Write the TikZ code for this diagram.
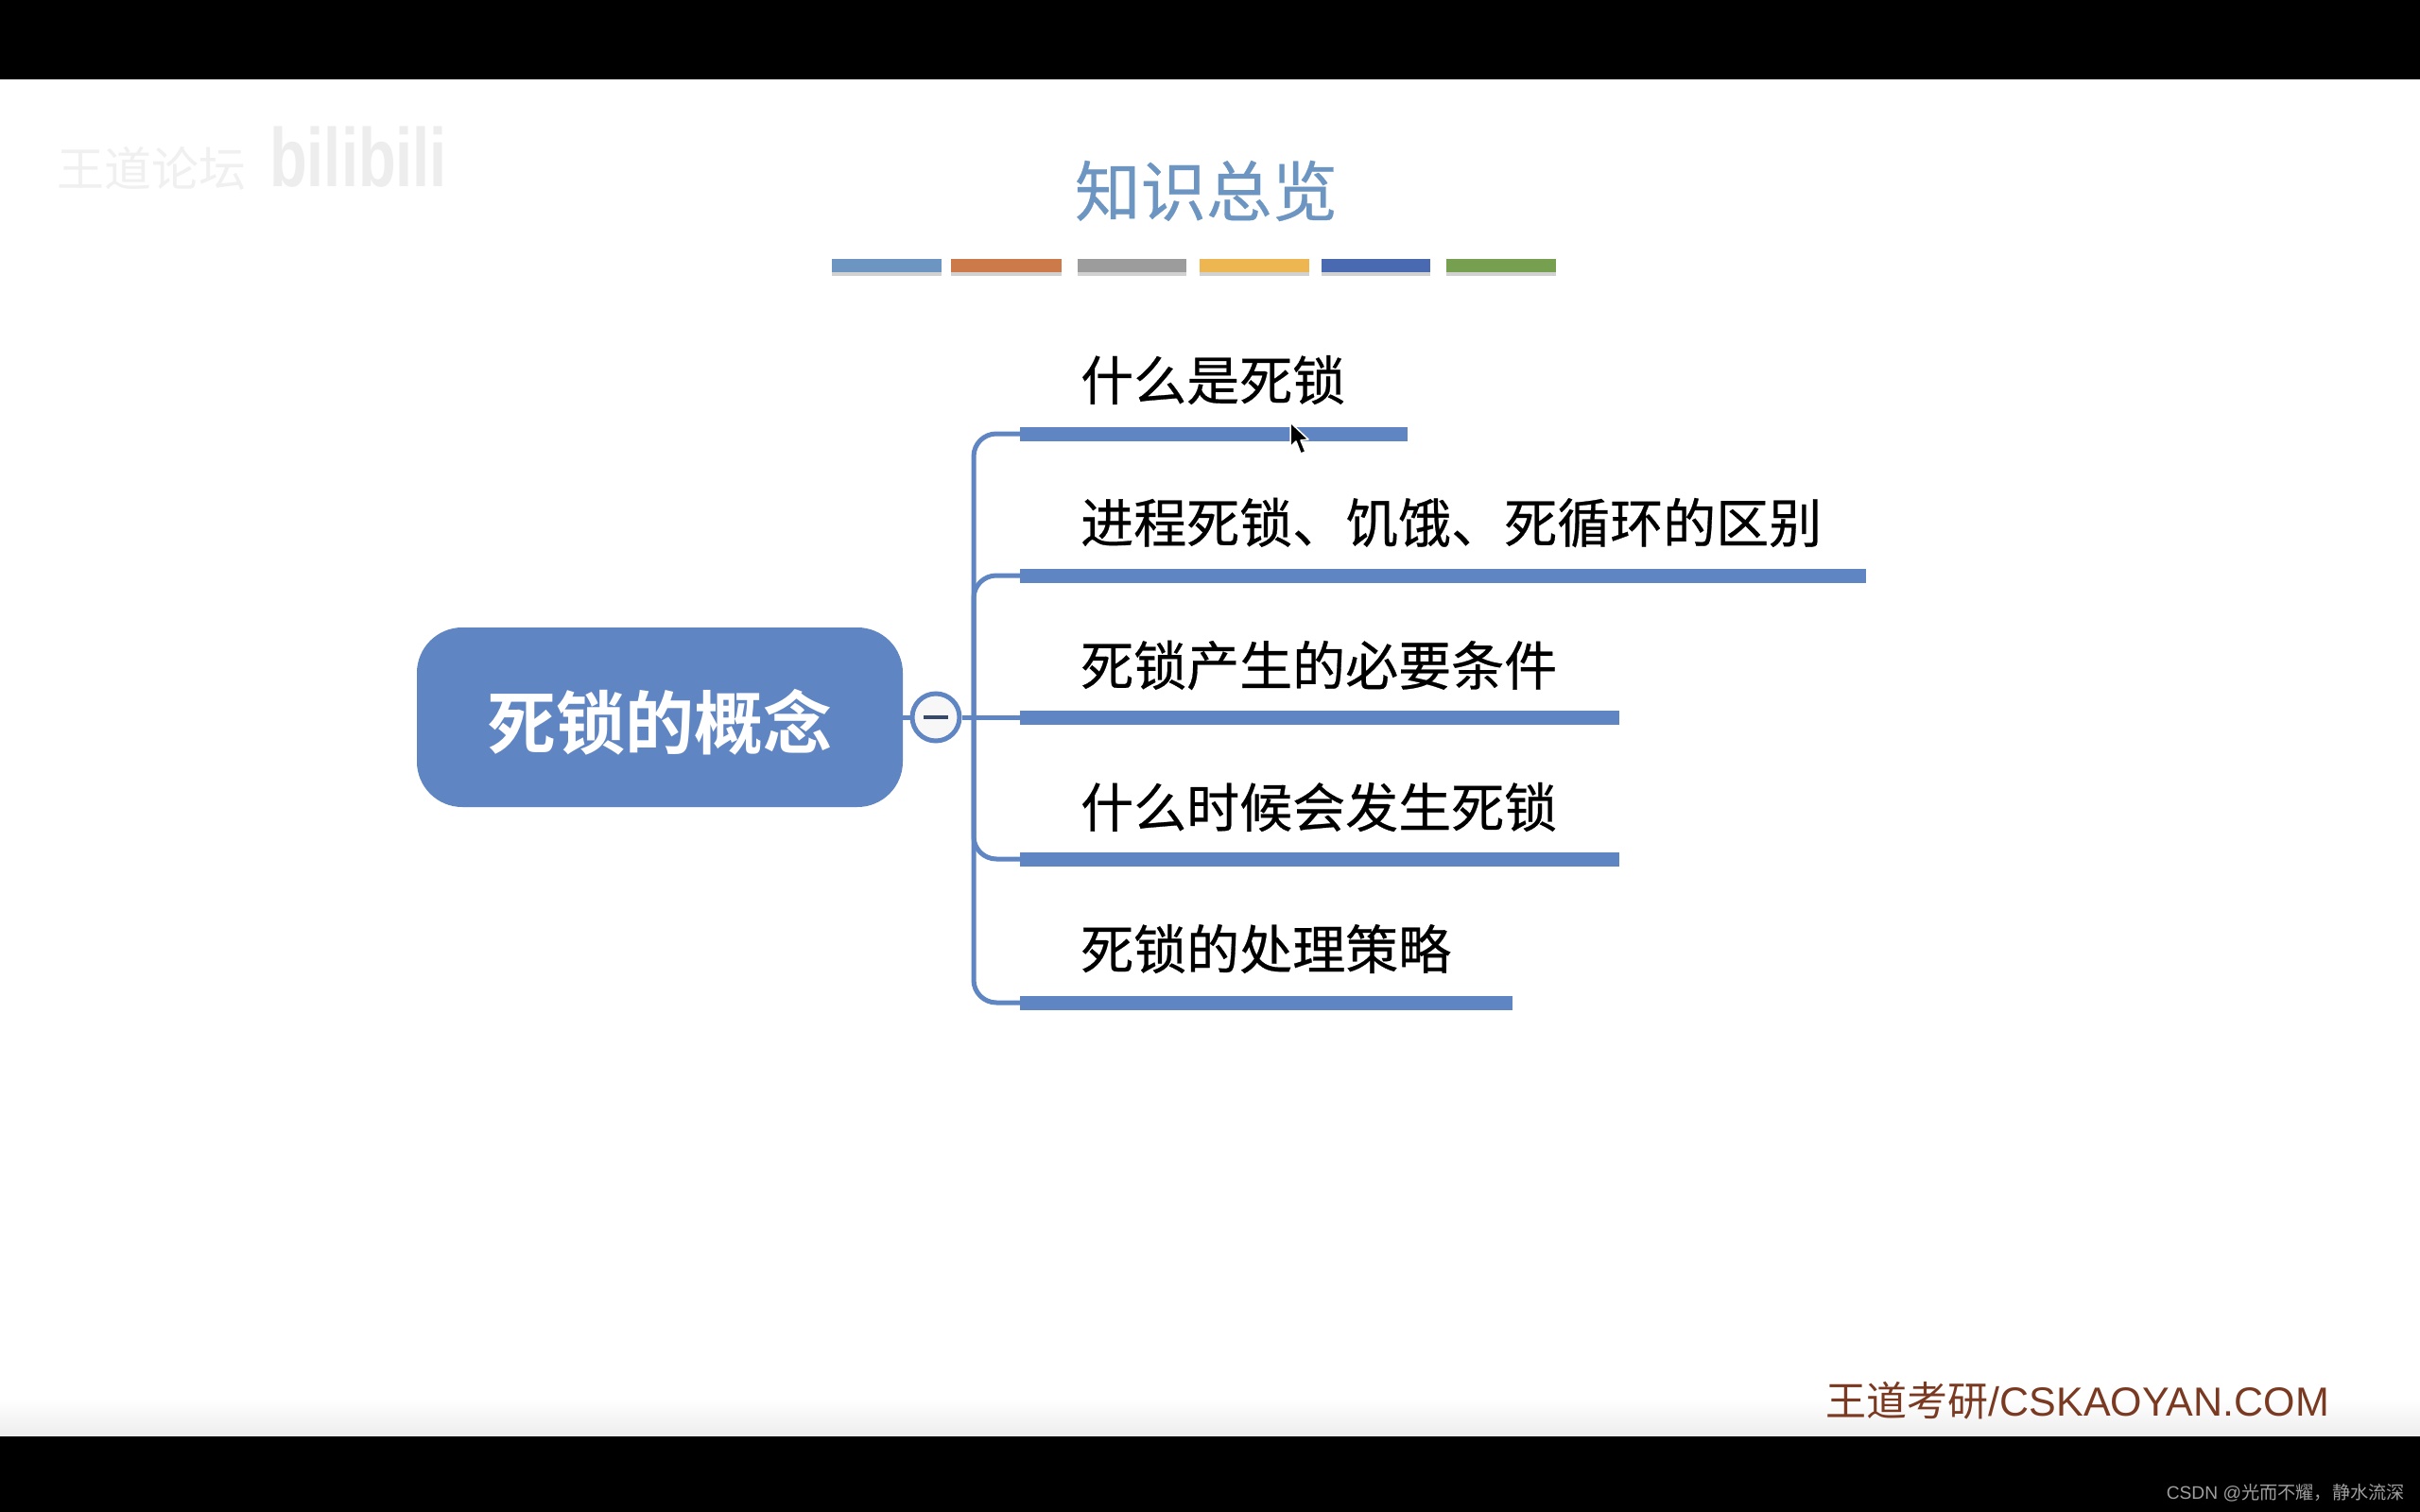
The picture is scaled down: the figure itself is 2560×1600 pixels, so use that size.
\documentclass[tikz,border=0pt]{standalone}
\usepackage{fontspec}
\usepackage{graphicx}
\setmainfont{Liberation Sans}
\newfontfamily\cjk{Noto Sans CJK SC}
\newfontfamily\cjkm[FakeBold=0.5]{Noto Sans CJK SC}
\newfontfamily\cjkb{Noto Sans CJK SC Bold}
\usetikzlibrary{shadows}
\definecolor{mapblue}{HTML}{5F85C3}
\definecolor{titleblue}{HTML}{6C95C2}
\definecolor{footbrown}{HTML}{7A3A22}
\definecolor{barorange}{RGB}{205,122,75}
\definecolor{bargrey}{RGB}{156,156,156}
\definecolor{baryellow}{RGB}{237,182,80}
\definecolor{bardeep}{RGB}{73,106,176}
\definecolor{bargreen}{RGB}{118,160,80}
\tikzset{
  x=1pt,y=-1pt,
  colorbar/.style={draw=none,minimum height=14pt,inner sep=0pt,anchor=west,drop shadow={shadow xshift=0pt,shadow yshift=-4pt,fill=black,opacity=.18}},
  branchbar/.style={fill=mapblue,minimum height=15pt,inner sep=0pt,anchor=west},
  branchtext/.style={anchor=west,inner sep=0pt,text=black,font=\fontsize{56}{56}\selectfont\cjkm},
  conn/.style={draw=mapblue,line width=5pt,rounded corners=24pt},
}
\begin{document}
\begin{tikzpicture}
\useasboundingbox (0,0) rectangle (2560,1600);
\fill[white] (0,0) rectangle (2560,1600);
\fill[black] (0,0) rectangle (2560,84);
\fill[black] (0,1519) rectangle (2560,1600);
\shade[top color=white,bottom color=black!7] (0,1480) rectangle (2560,1519);
% watermark
\node[anchor=west,inner sep=0pt,text=black!6,font=\fontsize{50}{50}\selectfont\cjk] (wm1) at (60,178) {王道论坛};
\node[anchor=west,inner sep=0pt,text=black!7,font=\fontsize{65}{65}\selectfont\bfseries] (wm2) at (285,166) {\scalebox{1}[1.35]{bilibili}};
% title
\node[inner sep=0pt,text=titleblue,font=\fontsize{69.5}{69.5}\selectfont\cjkm] (title) at (1276,202) {知识总览};
\node[colorbar,minimum width=116pt,fill=titleblue] (c1) at (880,281) {};
\node[colorbar,minimum width=117pt,fill=barorange] (c2) at (1006,281) {};
\node[colorbar,minimum width=115pt,fill=bargrey] (c3) at (1140,281) {};
\node[colorbar,minimum width=116pt,fill=baryellow] (c4) at (1269,281) {};
\node[colorbar,minimum width=115pt,fill=bardeep] (c5) at (1398,281) {};
\node[colorbar,minimum width=116pt,fill=bargreen] (c6) at (1530,281) {};
% map
\node[fill=mapblue,rounded corners=48pt,minimum width=514pt,minimum height=190pt,inner sep=0pt,text=white,font=\fontsize{73}{73}\selectfont\cjkb] (root) at (698,759) {\raisebox{0pt}[66pt][0pt]{死锁的概念}};
\node[branchbar,minimum width=410pt] (b1) at (1079,459) {};
\node[branchbar,minimum width=895pt] (b2) at (1079,609) {};
\node[branchbar,minimum width=634pt] (b3) at (1079,759) {};
\node[branchbar,minimum width=634pt] (b4) at (1079,909) {};
\node[branchbar,minimum width=521pt] (b5) at (1079,1061) {};
\node[circle,draw=mapblue,line width=5pt,fill=black!3,minimum size=50pt,inner sep=0pt] (hub) at (990,759) {};
\coordinate (spine) at (1030,759);
\draw[conn] (root.east) -- (hub.west);
\draw[conn] (hub.east) -- (b3.west);
\draw[conn] (b1.west) -- (b1.west -| spine) -- (b5.west -| spine) -- (b5.west);
\draw[conn] (b2.west) -- (b2.west -| spine) -- (spine);
\draw[conn] (b4.west) -- (b4.west -| spine) -- (spine);
\draw[draw=black!45!mapblue,line width=4pt] ([xshift=-13pt]hub.center) -- ([xshift=13pt]hub.center);
\node[branchtext] (t1) at (1143,402) {什么是死锁};
\node[branchtext] (t2) at (1143,553) {进程死锁、饥饿、死循环的区别};
\node[branchtext] (t3) at (1143,704) {死锁产生的必要条件};
\node[branchtext] (t4) at (1143,854) {什么时候会发生死锁};
\node[branchtext] (t5) at (1143,1004) {死锁的处理策略};
% cursor
\draw[fill=black,draw=white,line width=1.5pt,line join=round] (1365,447) -- (1365,473) -- (1371,467) -- (1376,480) -- (1381,478) -- (1376,466) -- (1384,465) -- cycle;
% footer
\node[anchor=east,inner sep=0pt,text=footbrown,font=\fontsize{43}{43}\selectfont] (foot) at (2464,1482) {{\cjk 王道考研}/CSKAOYAN.COM};
\node[anchor=east,inner sep=0pt,text=black!38,font=\fontsize{19.2}{19.2}\selectfont] (csdn) at (2544,1580) {CSDN @{\cjk 光而不耀，静水流深}};
\end{tikzpicture}
\end{document}
